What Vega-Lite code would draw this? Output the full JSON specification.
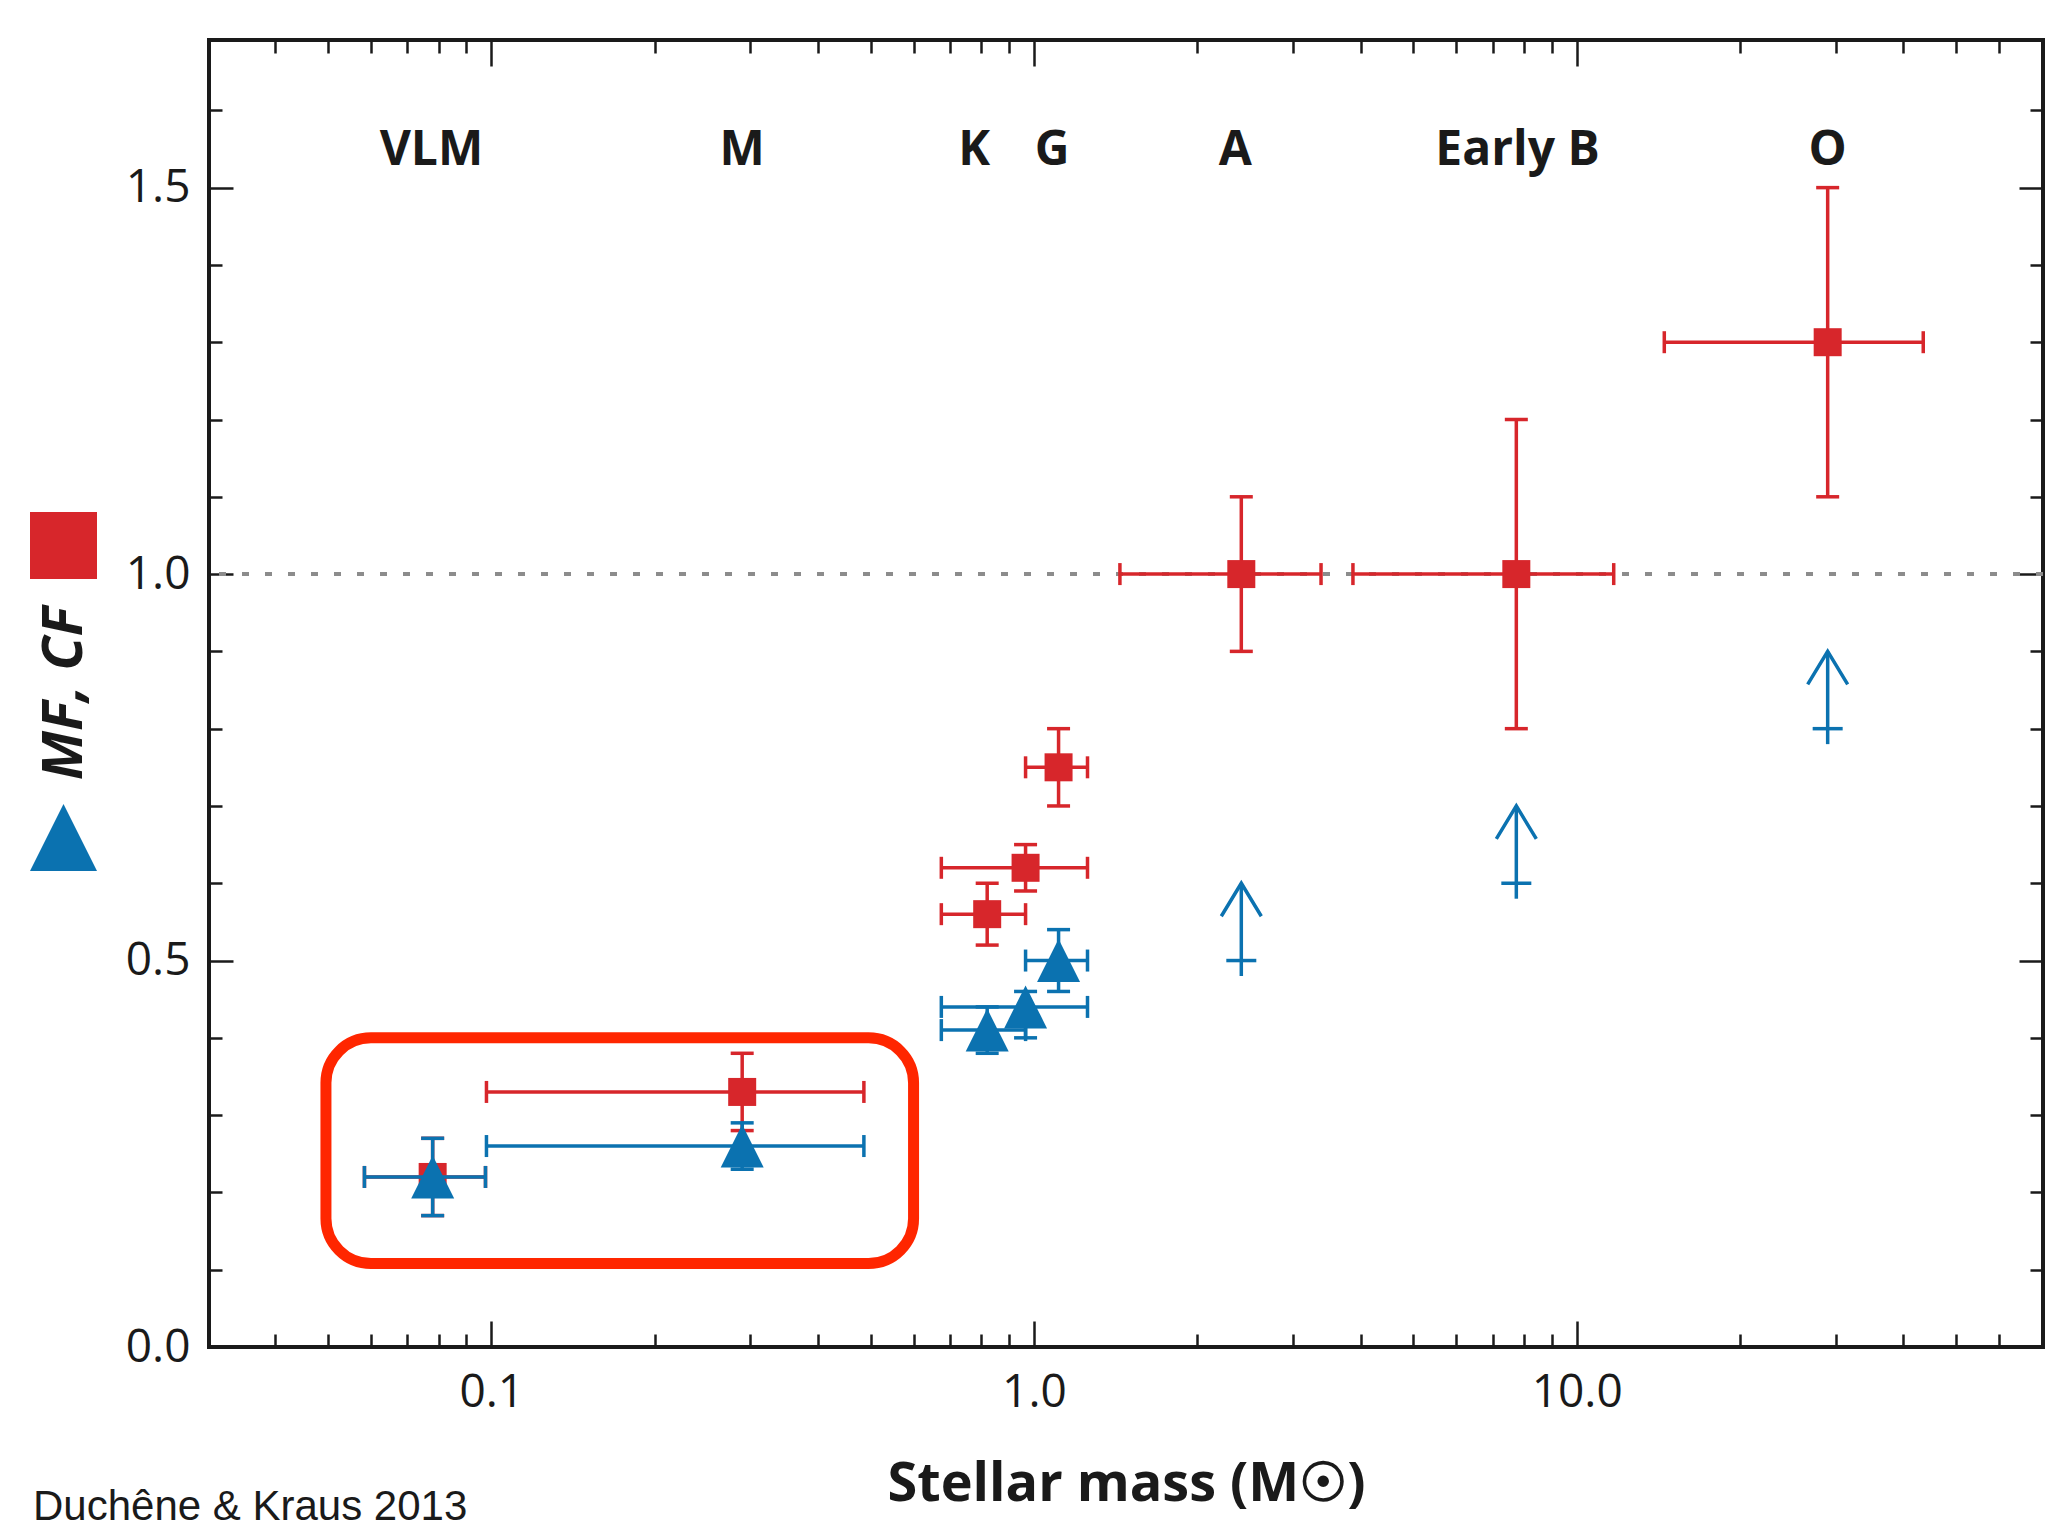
{
  "$schema": "https://vega.github.io/schema/vega-lite/v6.json",
  "width": 1834,
  "height": 1307,
  "autosize": {"type": "none"},
  "padding": {"left": 209, "top": 40, "right": 7, "bottom": 190},
  "background": "white",
  "config": {"view": {"stroke": "#1a1a1a", "strokeWidth": 4}, "font": "Open Sans"},
  "title": {"text": "Duchêne & Kraus 2013", "orient": "bottom", "anchor": "start", "frame": "group", "dx": -176, "offset": -24, "font": "Liberation Sans", "fontSize": 42, "fontWeight": "normal", "color": "#1a1a1a"},
  "datasets": {
    "pts": [
      {"series": "MF", "mass": 0.078, "frac": 0.22, "mlo": 0.0584, "mhi": 0.0976, "flo": 0.17, "fhi": 0.27},
      {"series": "MF", "mass": 0.29, "frac": 0.33, "mlo": 0.098, "mhi": 0.486, "flo": 0.28, "fhi": 0.38},
      {"series": "MF", "mass": 0.82, "frac": 0.56, "mlo": 0.675, "mhi": 0.965, "flo": 0.52, "fhi": 0.6},
      {"series": "MF", "mass": 0.965, "frac": 0.62, "mlo": 0.675, "mhi": 1.255, "flo": 0.59, "fhi": 0.65},
      {"series": "MF", "mass": 1.11, "frac": 0.75, "mlo": 0.965, "mhi": 1.255, "flo": 0.7, "fhi": 0.8},
      {"series": "MF", "mass": 2.41, "frac": 1.0, "mlo": 1.44, "mhi": 3.38, "flo": 0.9, "fhi": 1.1},
      {"series": "MF", "mass": 7.74, "frac": 1.0, "mlo": 3.87, "mhi": 11.7, "flo": 0.8, "fhi": 1.2},
      {"series": "MF", "mass": 29, "frac": 1.3, "mlo": 14.5, "mhi": 43.5, "flo": 1.1, "fhi": 1.5},
      {"series": "CF", "mass": 0.078, "frac": 0.22, "mlo": 0.0584, "mhi": 0.0976, "flo": 0.17, "fhi": 0.27},
      {"series": "CF", "mass": 0.29, "frac": 0.26, "mlo": 0.098, "mhi": 0.486, "flo": 0.23, "fhi": 0.29},
      {"series": "CF", "mass": 0.82, "frac": 0.41, "mlo": 0.675, "mhi": 0.965, "flo": 0.38, "fhi": 0.44},
      {"series": "CF", "mass": 0.965, "frac": 0.44, "mlo": 0.675, "mhi": 1.255, "flo": 0.4, "fhi": 0.46},
      {"series": "CF", "mass": 1.11, "frac": 0.5, "mlo": 0.965, "mhi": 1.255, "flo": 0.46, "fhi": 0.54}
    ],
    "limits": [
      {"mass": 2.41, "low": 0.48, "base": 0.5, "tip": 0.6},
      {"mass": 7.74, "low": 0.58, "base": 0.6, "tip": 0.7},
      {"mass": 29, "low": 0.78, "base": 0.8, "tip": 0.9}
    ],
    "classes": [
      {"label": "VLM", "mass": 0.0776},
      {"label": "M", "mass": 0.29},
      {"label": "K", "mass": 0.776},
      {"label": "G", "mass": 1.08},
      {"label": "A", "mass": 2.35},
      {"label": "Early B", "mass": 7.78},
      {"label": "O", "mass": 29.0}
    ],
    "box": [{"mlo": 0.0496, "mhi": 0.6, "flo": 0.108, "fhi": 0.4}]
  },
  "resolve": {"axis": {"x": "independent", "y": "independent"}},
  "layer": [
    {
      "data": {"values": [{"level": 1}]},
      "mark": {"type": "rule", "stroke": "#8c8c8c", "strokeWidth": 4, "strokeDash": [7, 16]},
      "encoding": {"y": {"field": "level", "type": "quantitative", "scale": {"domain": [0, 1.691], "nice": false, "zero": false}, "axis": null}}
    },
    {
      "data": {"name": "box"},
      "mark": {"type": "rect", "fill": "transparent", "stroke": "#ff2600", "strokeWidth": 11, "cornerRadius": 45},
      "encoding": {
        "x": {"field": "mlo", "type": "quantitative", "scale": {"type": "log", "domain": [0.0302, 72.3], "nice": false},
          "axis": {"orient": "bottom", "values": [0.04,0.05,0.06,0.07,0.08,0.09,0.1,0.2,0.3,0.4,0.5,0.6,0.7,0.8,0.9,1,2,3,4,5,6,7,8,9,10,20,30,40,50,60],
            "domain": false, "grid": false, "tickColor": "#1a1a1a", "tickWidth": 2.5,
            "tickSize": {"condition": {"test": "datum.value == 0.1 || datum.value == 1 || datum.value == 10", "value": -26}, "value": -13},
            "labelExpr": "datum.value == 0.1 ? '0.1' : datum.value == 1 ? '1.0' : datum.value == 10 ? '10.0' : ''",
            "labelFont": "Open Sans", "labelFontSize": 46, "labelColor": "#1a1a1a", "labelPadding": 49,
            "labelOverlap": false, "labelFlush": false, "labelBound": false,
            "title": "Stellar mass (M☉)", "titleFont": "Open Sans", "titleFontWeight": "bold", "titleFontSize": 54, "titleColor": "#1a1a1a",
            "titleX": 917, "titleY": 153, "titleBaseline": "alphabetic", "titleAlign": "center"}},
        "x2": {"field": "mhi"},
        "y": {"field": "flo", "type": "quantitative", "scale": {"domain": [0, 1.691], "nice": false, "zero": false},
          "axis": {"orient": "left", "values": [0,0.1,0.2,0.3,0.4,0.5,0.6,0.7,0.8,0.9,1,1.1,1.2,1.3,1.4,1.5,1.6],
            "domain": false, "grid": false, "tickColor": "#1a1a1a", "tickWidth": 2.5,
            "tickSize": {"condition": {"test": "datum.value == 0 || datum.value == 0.5 || datum.value == 1 || datum.value == 1.5", "value": -24}, "value": -13},
            "labelExpr": "datum.value == 0 || datum.value == 0.5 || datum.value == 1 || datum.value == 1.5 ? format(datum.value, '.1f') : ''",
            "labelFont": "Open Sans", "labelFontSize": 46, "labelColor": "#1a1a1a", "labelPadding": 43,
            "labelOverlap": false, "labelFlush": false, "labelBound": false,
            "title": "MF, CF", "titleFont": "Open Sans", "titleFontWeight": "bold", "titleFontStyle": "italic", "titleFontSize": 56, "titleColor": "#1a1a1a",
            "titleX": -145, "titleY": 653, "titleAngle": 270, "titleAlign": "center", "titleBaseline": "middle"}},
        "y2": {"field": "fhi"}
      }
    },
    {
      "data": {"name": "pts"}, "transform": [{"filter": "datum.series == 'MF'"}],
      "mark": {"type": "rule", "color": "#d7262b", "strokeWidth": 3.5},
      "encoding": {"x": {"field": "mlo", "type": "quantitative", "scale": {"type": "log"}, "axis": null}, "x2": {"field": "mhi"}, "y": {"field": "frac", "type": "quantitative", "axis": null}}
    },
    {
      "data": {"name": "pts"}, "transform": [{"filter": "datum.series == 'MF'"}],
      "mark": {"type": "rule", "color": "#d7262b", "strokeWidth": 3.5},
      "encoding": {"x": {"field": "mass", "type": "quantitative", "scale": {"type": "log"}, "axis": null}, "y": {"field": "flo", "type": "quantitative", "axis": null}, "y2": {"field": "fhi"}}
    },
    {
      "data": {"name": "pts"}, "transform": [{"filter": "datum.series == 'MF'"}],
      "mark": {"type": "point", "shape": "M0,-1L0,1", "size": 484, "filled": false, "color": "#d7262b", "strokeWidth": 3.5, "opacity": 1},
      "encoding": {"x": {"field": "mlo", "type": "quantitative", "scale": {"type": "log"}, "axis": null}, "y": {"field": "frac", "type": "quantitative", "axis": null}}
    },
    {
      "data": {"name": "pts"}, "transform": [{"filter": "datum.series == 'MF'"}],
      "mark": {"type": "point", "shape": "M0,-1L0,1", "size": 484, "filled": false, "color": "#d7262b", "strokeWidth": 3.5, "opacity": 1},
      "encoding": {"x": {"field": "mhi", "type": "quantitative", "scale": {"type": "log"}, "axis": null}, "y": {"field": "frac", "type": "quantitative", "axis": null}}
    },
    {
      "data": {"name": "pts"}, "transform": [{"filter": "datum.series == 'MF'"}],
      "mark": {"type": "point", "shape": "M-1,0L1,0", "size": 529, "filled": false, "color": "#d7262b", "strokeWidth": 3.5, "opacity": 1},
      "encoding": {"x": {"field": "mass", "type": "quantitative", "scale": {"type": "log"}, "axis": null}, "y": {"field": "flo", "type": "quantitative", "axis": null}}
    },
    {
      "data": {"name": "pts"}, "transform": [{"filter": "datum.series == 'MF'"}],
      "mark": {"type": "point", "shape": "M-1,0L1,0", "size": 529, "filled": false, "color": "#d7262b", "strokeWidth": 3.5, "opacity": 1},
      "encoding": {"x": {"field": "mass", "type": "quantitative", "scale": {"type": "log"}, "axis": null}, "y": {"field": "fhi", "type": "quantitative", "axis": null}}
    },
    {
      "data": {"name": "pts"}, "transform": [{"filter": "datum.series == 'MF'"}],
      "mark": {"type": "point", "size": 784, "filled": true, "opacity": 1, "strokeWidth": 0},
      "encoding": {
        "x": {"field": "mass", "type": "quantitative", "scale": {"type": "log"}, "axis": null},
        "y": {"field": "frac", "type": "quantitative", "axis": null},
        "color": {"field": "series", "type": "nominal", "scale": {"domain": ["MF", "CF"], "range": ["#d7262b", "#0b72b0"]},
          "legend": {"title": null, "labelExpr": "''", "orient": "none", "legendX": -179, "legendY": 472, "symbolSize": 4489, "rowPadding": 225, "symbolStrokeWidth": 0, "padding": 0, "direction": "vertical"}},
        "shape": {"field": "series", "type": "nominal", "scale": {"domain": ["MF", "CF"], "range": ["square", "M0,-1L1,1L-1,1Z"]},
          "legend": {"title": null, "labelExpr": "''", "orient": "none", "legendX": -179, "legendY": 472, "symbolSize": 4489, "rowPadding": 225, "symbolStrokeWidth": 0, "padding": 0, "direction": "vertical"}}
      }
    },
    {
      "data": {"name": "pts"}, "transform": [{"filter": "datum.series == 'CF'"}],
      "mark": {"type": "rule", "color": "#0b72b0", "strokeWidth": 3.5},
      "encoding": {"x": {"field": "mlo", "type": "quantitative", "scale": {"type": "log"}, "axis": null}, "x2": {"field": "mhi"}, "y": {"field": "frac", "type": "quantitative", "axis": null}}
    },
    {
      "data": {"name": "pts"}, "transform": [{"filter": "datum.series == 'CF'"}],
      "mark": {"type": "rule", "color": "#0b72b0", "strokeWidth": 3.5},
      "encoding": {"x": {"field": "mass", "type": "quantitative", "scale": {"type": "log"}, "axis": null}, "y": {"field": "flo", "type": "quantitative", "axis": null}, "y2": {"field": "fhi"}}
    },
    {
      "data": {"name": "pts"}, "transform": [{"filter": "datum.series == 'CF'"}],
      "mark": {"type": "point", "shape": "M0,-1L0,1", "size": 484, "filled": false, "color": "#0b72b0", "strokeWidth": 3.5, "opacity": 1},
      "encoding": {"x": {"field": "mlo", "type": "quantitative", "scale": {"type": "log"}, "axis": null}, "y": {"field": "frac", "type": "quantitative", "axis": null}}
    },
    {
      "data": {"name": "pts"}, "transform": [{"filter": "datum.series == 'CF'"}],
      "mark": {"type": "point", "shape": "M0,-1L0,1", "size": 484, "filled": false, "color": "#0b72b0", "strokeWidth": 3.5, "opacity": 1},
      "encoding": {"x": {"field": "mhi", "type": "quantitative", "scale": {"type": "log"}, "axis": null}, "y": {"field": "frac", "type": "quantitative", "axis": null}}
    },
    {
      "data": {"name": "pts"}, "transform": [{"filter": "datum.series == 'CF'"}],
      "mark": {"type": "point", "shape": "M-1,0L1,0", "size": 529, "filled": false, "color": "#0b72b0", "strokeWidth": 3.5, "opacity": 1},
      "encoding": {"x": {"field": "mass", "type": "quantitative", "scale": {"type": "log"}, "axis": null}, "y": {"field": "flo", "type": "quantitative", "axis": null}}
    },
    {
      "data": {"name": "pts"}, "transform": [{"filter": "datum.series == 'CF'"}],
      "mark": {"type": "point", "shape": "M-1,0L1,0", "size": 529, "filled": false, "color": "#0b72b0", "strokeWidth": 3.5, "opacity": 1},
      "encoding": {"x": {"field": "mass", "type": "quantitative", "scale": {"type": "log"}, "axis": null}, "y": {"field": "fhi", "type": "quantitative", "axis": null}}
    },
    {
      "data": {"name": "pts"}, "transform": [{"filter": "datum.series == 'CF'"}],
      "mark": {"type": "point", "size": 1849, "filled": true, "opacity": 1, "strokeWidth": 0},
      "encoding": {
        "x": {"field": "mass", "type": "quantitative", "scale": {"type": "log"}, "axis": null},
        "y": {"field": "frac", "type": "quantitative", "axis": null},
        "color": {"field": "series", "type": "nominal", "scale": {"domain": ["MF", "CF"], "range": ["#d7262b", "#0b72b0"]},
          "legend": {"title": null, "labelExpr": "''", "orient": "none", "legendX": -179, "legendY": 472, "symbolSize": 4489, "rowPadding": 225, "symbolStrokeWidth": 0, "padding": 0, "direction": "vertical"}},
        "shape": {"field": "series", "type": "nominal", "scale": {"domain": ["MF", "CF"], "range": ["square", "M0,-1L1,1L-1,1Z"]},
          "legend": {"title": null, "labelExpr": "''", "orient": "none", "legendX": -179, "legendY": 472, "symbolSize": 4489, "rowPadding": 225, "symbolStrokeWidth": 0, "padding": 0, "direction": "vertical"}}
      }
    },
    {
      "data": {"name": "limits"},
      "mark": {"type": "rule", "color": "#0b72b0", "strokeWidth": 3.5},
      "encoding": {
        "x": {"field": "mass", "type": "quantitative", "scale": {"type": "log"},
          "axis": {"orient": "top", "values": [0.04,0.05,0.06,0.07,0.08,0.09,0.1,0.2,0.3,0.4,0.5,0.6,0.7,0.8,0.9,1,2,3,4,5,6,7,8,9,10,20,30,40,50,60],
            "domain": false, "grid": false, "labels": false, "title": null, "tickColor": "#1a1a1a", "tickWidth": 2.5,
            "tickSize": {"condition": {"test": "datum.value == 0.1 || datum.value == 1 || datum.value == 10", "value": -26}, "value": -13}}},
        "y": {"field": "low", "type": "quantitative",
          "axis": {"orient": "right", "values": [0,0.1,0.2,0.3,0.4,0.5,0.6,0.7,0.8,0.9,1,1.1,1.2,1.3,1.4,1.5,1.6],
            "domain": false, "grid": false, "labels": false, "title": null, "tickColor": "#1a1a1a", "tickWidth": 2.5,
            "tickSize": {"condition": {"test": "datum.value == 0 || datum.value == 0.5 || datum.value == 1 || datum.value == 1.5", "value": -24}, "value": -13}}},
        "y2": {"field": "tip"}
      }
    },
    {
      "data": {"name": "limits"},
      "mark": {"type": "point", "shape": "M-1,0L1,0", "size": 900, "filled": false, "color": "#0b72b0", "strokeWidth": 3.5, "opacity": 1},
      "encoding": {"x": {"field": "mass", "type": "quantitative", "scale": {"type": "log"}, "axis": null}, "y": {"field": "base", "type": "quantitative", "axis": null}}
    },
    {
      "data": {"name": "limits"},
      "mark": {"type": "point", "shape": "M-1,1.65L0,0L1,1.65", "size": 1600, "filled": false, "color": "#0b72b0", "strokeWidth": 3.5, "opacity": 1},
      "encoding": {"x": {"field": "mass", "type": "quantitative", "scale": {"type": "log"}, "axis": null}, "y": {"field": "tip", "type": "quantitative", "axis": null}}
    },
    {
      "data": {"name": "classes"},
      "mark": {"type": "text", "font": "Open Sans", "fontWeight": "bold", "fontSize": 48, "color": "#1a1a1a", "align": "center", "baseline": "middle"},
      "encoding": {
        "x": {"field": "mass", "type": "quantitative", "scale": {"type": "log"}, "axis": null},
        "y": {"datum": 1.548, "type": "quantitative", "axis": null},
        "text": {"field": "label"}
      }
    }
  ]
}
